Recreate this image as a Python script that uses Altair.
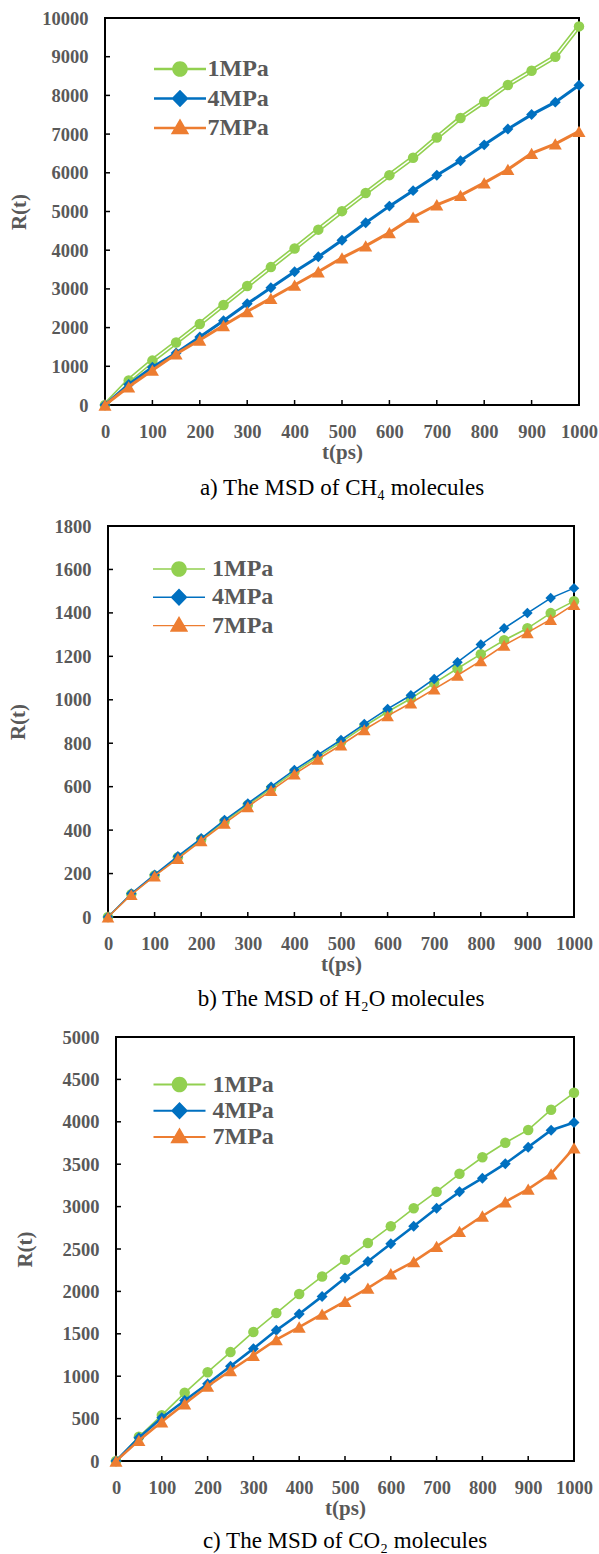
import altair as alt
import pandas as pd

# ---------------- data ----------------
T = [0, 50, 100, 150, 200, 250, 300, 350, 400, 450, 500,
     550, 600, 650, 700, 750, 800, 850, 900, 950, 1000]
SERIES = ["1MPa", "4MPa", "7MPa"]
COLORS = ["#92D050", "#0070C0", "#ED7D31"]

CH4_1 = [0, 634, 1147, 1614, 2094, 2586, 3075, 3563, 4043, 4531, 5009,
         5478, 5939, 6391, 6913, 7417, 7835, 8270, 8635, 9000, 9783]
CH4_4 = [0, 531, 977, 1346, 1757, 2175, 2614, 3032, 3443, 3829, 4257,
         4711, 5139, 5539, 5939, 6313, 6722, 7130, 7504, 7826, 8261]
CH4_7 = [0, 471, 900, 1320, 1680, 2054, 2414, 2757, 3100, 3443, 3803,
         4111, 4454, 4852, 5174, 5417, 5739, 6087, 6504, 6748, 7070]

H2O_1 = [0, 105, 191, 275, 357, 440, 516, 592, 668, 737, 805,
         878, 945, 1006, 1077, 1144, 1210, 1274, 1329, 1399, 1454]
H2O_4 = [0, 108, 195, 280, 362, 446, 523, 600, 677, 746, 815,
         888, 958, 1021, 1096, 1173, 1254, 1329, 1399, 1468, 1514]
H2O_7 = [0, 103, 189, 269, 351, 431, 508, 582, 658, 726, 792,
         862, 926, 985, 1049, 1113, 1179, 1251, 1309, 1370, 1439]

CO2_1 = [0, 286, 541, 804, 1047, 1284, 1522, 1745, 1969, 2176, 2373,
         2570, 2769, 2980, 3176, 3387, 3582, 3753, 3904, 4143, 4342]
CO2_4 = [0, 275, 510, 714, 910, 1118, 1325, 1541, 1733, 1941, 2157,
         2352, 2562, 2769, 2980, 3174, 3335, 3506, 3701, 3900, 3992]
CO2_7 = [0, 243, 463, 675, 882, 1067, 1247, 1431, 1580, 1733, 1882,
         2039, 2208, 2351, 2530, 2709, 2889, 3056, 3207, 3387, 3693]

X_TICKS = [0, 100, 200, 300, 400, 500, 600, 700, 800, 900, 1000]
Y_TICKS_A = [0, 1000, 2000, 3000, 4000, 5000, 6000, 7000, 8000, 9000, 10000]
Y_TICKS_B = [0, 200, 400, 600, 800, 1000, 1200, 1400, 1600, 1800]
Y_TICKS_C = [0, 500, 1000, 1500, 2000, 2500, 3000, 3500, 4000, 4500, 5000]

CAPTION_A = "a) The MSD of CH\u2084 molecules"
CAPTION_B = "b) The MSD of H\u2082O molecules"
CAPTION_C = "c) The MSD of CO\u2082 molecules"

FONT = "Liberation Serif"
GRAY = "#595959"
MARKERS = ["circle", "diamond", "triangle-up"]


def legend_paths(th):
    """Legend symbols: a short line with the marker in its middle."""
    line = f"M-2.6,-{th}H2.6V{th}H-2.6Z "
    circ = line + "M0,-0.78A0.78,0.78 0 1,1 0,0.78A0.78,0.78 0 1,1 0,-0.78Z"
    diam = line + "M0,-0.88L0.85,0L0,0.88L-0.85,0Z"
    tri = line + "M0,-0.95L0.92,0.62L-0.92,0.62Z"
    return [circ, diam, tri]


def spacer(w):
    return alt.Chart(pd.DataFrame({"v": [0]})).mark_point(
        size=0, opacity=0).encode(
        x=alt.value(0), y=alt.value(0)).properties(
        width=w, height=1, view=alt.ViewBackground(stroke="transparent"))


def panel(values, ymax, yticks, w, h, caption, lws, msizes, lx, ly,
          rowpad, loff, th, title_x, double_first, cap_offset):
    rows = []
    for s, vals in zip(SERIES, values):
        for t, v in zip(T, vals):
            rows.append({"t": t, "R": v, "series": s})
    df = pd.DataFrame(rows)

    x_enc = alt.X("t:Q", scale=alt.Scale(domain=[0, 1000], nice=False),
                  axis=alt.Axis(values=X_TICKS, format="d", title="t(ps)",
                                labelPadding=17, titlePadding=1,
                                labelOverlap=False, labelFlush=False))
    y_enc = alt.Y("R:Q", scale=alt.Scale(domain=[0, ymax], nice=False),
                  axis=alt.Axis(values=yticks, format="d", title="R(t)",
                                labelPadding=17, titleX=title_x,
                                titleBaseline="middle",
                                labelOverlap=False, labelFlush=False))

    layers = []
    # inner tick marks
    layers.append(alt.Chart(pd.DataFrame({"t": X_TICKS})).mark_rule(
        color="black", strokeWidth=1.5).encode(
        x=x_enc, y=alt.value(h), y2=alt.value(h - 5)))
    layers.append(alt.Chart(pd.DataFrame({"R": yticks})).mark_rule(
        color="black", strokeWidth=1.5).encode(
        y=y_enc, x=alt.value(0), x2=alt.value(5)))

    base = alt.Chart(df)
    for i, s in enumerate(SERIES):
        sub = base.transform_filter(alt.datum.series == s)
        layers.append(sub.mark_line(color=COLORS[i], strokeWidth=lws[i]).encode(
            x=x_enc, y=y_enc))
        if double_first and i == 0:
            layers.append(sub.mark_line(color="white", strokeWidth=1.4).encode(
                x=x_enc, y=y_enc))
        layers.append(sub.mark_point(shape=MARKERS[i], filled=True, opacity=1,
                                     size=msizes[i], color=COLORS[i]).encode(
            x=x_enc, y=y_enc))

    leg = alt.Legend(orient="none", legendX=lx, legendY=ly, title=None,
                     labelFont=FONT, labelFontSize=24, labelFontWeight="bold",
                     labelColor=GRAY, symbolSize=400, labelOffset=loff,
                     rowPadding=rowpad, padding=0, symbolOpacity=1,
                     symbolStrokeWidth=0)
    layers.append(base.transform_filter("false").mark_point(
        filled=True, opacity=1).encode(
        x=x_enc, y=y_enc,
        color=alt.Color("series:N", scale=alt.Scale(domain=SERIES, range=COLORS),
                        legend=leg),
        shape=alt.Shape("series:N",
                        scale=alt.Scale(domain=SERIES, range=legend_paths(th)),
                        legend=leg)))

    return alt.layer(*layers).properties(
        width=w, height=h,
        title=alt.TitleParams(text=caption, orient="bottom", anchor="middle",
                              frame="group", font=FONT, fontSize=23,
                              fontWeight="normal", color="black",
                              offset=cap_offset))


pa = panel([CH4_1, CH4_4, CH4_7], 10000, Y_TICKS_A, 474, 387, CAPTION_A,
           [4.6, 3, 3], [110, 120, 170], 63, 39, 5.5, 15.5, 0.135, -86, True, 14)
pb = panel([H2O_1, H2O_4, H2O_7], 1800, Y_TICKS_B, 466, 391, CAPTION_B,
           [1.6, 1.6, 1.6], [110, 110, 160], 59, 31, 4.3, 21, 0.07, -89.5, False,
           13)
pc = panel([CO2_1, CO2_4, CO2_7], 5000, Y_TICKS_C, 458, 424, CAPTION_C,
           [1.6, 2.6, 2.6], [110, 120, 170], 51.5, 35.5, 2.3, 21, 0.1, -91, False,
           11)


def row(sw, p):
    return alt.hconcat(spacer(sw), p, spacing=0).resolve_scale(
        color="independent", shape="independent").resolve_legend(
        color="independent", shape="independent")


chart = alt.vconcat(row(2.3, pa), row(2.0, pb), row(9.0, pc),
                    spacing=15).resolve_scale(
    color="independent", shape="independent"
).resolve_legend(
    color="independent", shape="independent"
).properties(
    padding={"left": 2, "top": 8, "right": 0, "bottom": 0},
    background="white"
).configure_view(
    stroke="black", strokeWidth=2
).configure_axis(
    grid=False, domain=False, ticks=False,
    labelFont=FONT, labelFontSize=18.5, labelFontWeight="bold", labelColor=GRAY,
    titleFont=FONT, titleFontSize=21, titleFontWeight="bold", titleColor=GRAY
)

chart.save("out.html", embed_options={"renderer": "svg", "actions": False})
